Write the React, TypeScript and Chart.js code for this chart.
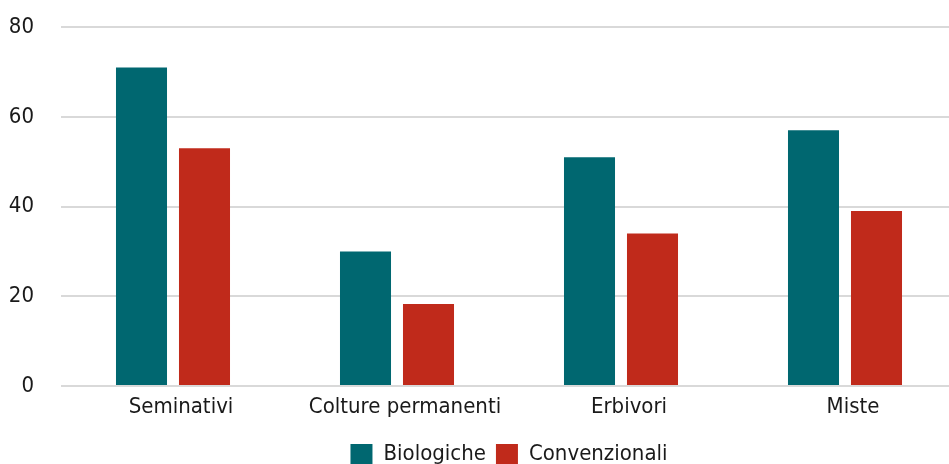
import React, { useEffect, useRef } from "react";
import { Chart, registerables } from "chart.js";

Chart.register(...registerables);

const categories = ["Seminativi", "Colture permanenti", "Erbivori", "Miste"];
const biologiche = [71, 30, 51, 57];
const convenzionali = [53, 18.3, 34, 39];
const seriesNames = ["Biologiche", "Convenzionali"];
const yTicks = [0, 20, 40, 60, 80];

const FONT = "'DejaVu Sans Condensed', 'DejaVu Sans', sans-serif";

export default function App() {
  const ref = useRef<HTMLCanvasElement | null>(null);

  useEffect(() => {
    if (!ref.current) return;
    const chart = new Chart(ref.current, {
      type: "bar",
      data: {
        labels: categories,
        datasets: [
          {
            label: seriesNames[0],
            data: biologiche,
            backgroundColor: "#006770",
            categoryPercentage: 0.5625,
            barPercentage: 0.81,
          },
          {
            label: seriesNames[1],
            data: convenzionali,
            backgroundColor: "#C02A1B",
            categoryPercentage: 0.5625,
            barPercentage: 0.81,
          },
        ],
      },
      options: {
        animation: false,
        responsive: false,
        maintainAspectRatio: false,
        layout: { padding: { top: 13, right: 3, left: 0, bottom: 0 } },
        plugins: {
          tooltip: { enabled: false },
          legend: {
            position: "bottom",
            fullSize: false,
            labels: {
              boxWidth: 22,
              boxHeight: 20,
              padding: 10,
              color: "#1a1a1a",
              font: { family: FONT, size: 22 },
            },
          },
        },
        scales: {
          x: {
            grid: { display: false, drawTicks: false },
            border: { display: false },
            afterFit: (axis: any) => {
              axis.height = 47;
            },
            ticks: {
              color: "#1a1a1a",
              padding: 8,
              labelOffset: 8,
              font: { family: FONT, size: 22 },
              maxRotation: 0,
            },
          },
          y: {
            min: 0,
            max: 80,
            afterBuildTicks: (axis: any) => {
              axis.ticks = yTicks.map((v) => ({ value: v }));
            },
            afterFit: (axis: any) => {
              axis.width = 61;
            },
            grid: { color: "#d9d9d9", lineWidth: 2, drawTicks: false },
            border: { display: false },
            ticks: {
              color: "#1a1a1a",
              padding: 27,
              font: { family: FONT, size: 22 },
            },
          },
        },
      },
    });
    return () => chart.destroy();
  }, []);

  return (
    <div style={{ position: "fixed", left: 0, top: 0, width: 949, height: 464, overflow: "hidden", background: "#fff" }}>
      <canvas
        ref={ref}
        width={960}
        height={488}
        style={{ position: "absolute", left: 0, top: -13, width: 960, height: 488, display: "block" }}
      />
    </div>
  );
}
